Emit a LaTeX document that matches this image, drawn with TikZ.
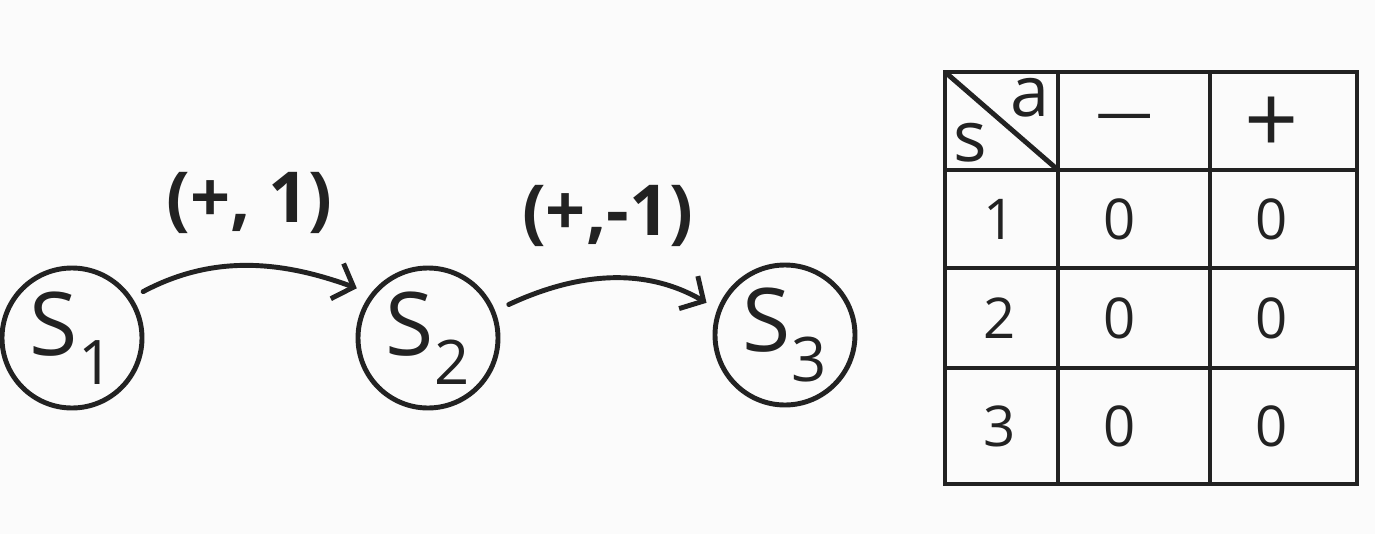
\documentclass[tikz,border=0pt]{standalone}
\usepackage{fontspec}
\setmainfont{Open Sans}
\usetikzlibrary{arrows.meta}
\definecolor{ink}{HTML}{222222}
\definecolor{paper}{HTML}{FBFBFB}
\begin{document}
\begin{tikzpicture}[line width=2.8pt,draw=ink,text=ink,
  state/.style={circle,draw,minimum size=2.8cm,inner sep=0pt,font=\fontsize{50}{56}\selectfont},
  lbl/.style={font=\bfseries\fontsize{40}{46}\selectfont},
  cell/.style={font=\fontsize{32}{38}\selectfont},
  barb/.style={-{Straight Barb[length=.35cm,width=.75cm,line width=2.8pt]},line cap=round}]
\fill[paper] (0,0) rectangle (27.5,-10.68); \useasboundingbox (0,0) rectangle (27.5,-10.68);
% states and moves
\node[state] (s1) at (1.44,-6.76) {S\textsubscript{1}}; \node[state] (s2) at (8.56,-6.76) {S\textsubscript{2}}; \node[state] (s3) at (15.7,-6.7) {S\textsubscript{3}};
\draw[barb,shorten <=.25cm,shorten >=.3cm] (s1.34) to[out=28,in=160] node[lbl,above=.5cm] (m1) {(+, 1)} (s2.142);
\draw[barb,shorten <=.3cm,shorten >=.25cm] (s2.22) to[out=25,in=150] node[lbl,above=.5cm] (m2) {(+,-1)} (s3.159);
% value table
\draw (18.9,-1.44) rectangle (27.14,-9.68); \draw (18.9,-1.44) -- (21.16,-3.4);
\foreach \x in {21.16,24.2} \draw (\x,-1.44) -- (\x,-9.68);
\foreach \y in {-3.4,-5.36,-7.36} \draw (18.9,\y) -- (27.14,\y);
\node[cell,font=\fontsize{40}{46}\selectfont] (ha) at (20.6,-1.95) {a}; \node[cell,font=\fontsize{40}{46}\selectfont] (hs) at (19.4,-2.85) {s};
\node[cell] (hminus) at (22.5,-2.45) {—}; \node[cell,font=\fontsize{54}{60}\selectfont] (hplus) at (25.44,-2.5) {+};
\foreach \r/\y in {1/-4.38,2/-6.36,3/-8.52} {
  \node[cell] (row\r) at (20.0,\y) {\r};
  \node[cell] (qm\r) at (22.4,\y) {0}; \node[cell] (qp\r) at (25.44,\y) {0};
}
\end{tikzpicture}
\end{document}
